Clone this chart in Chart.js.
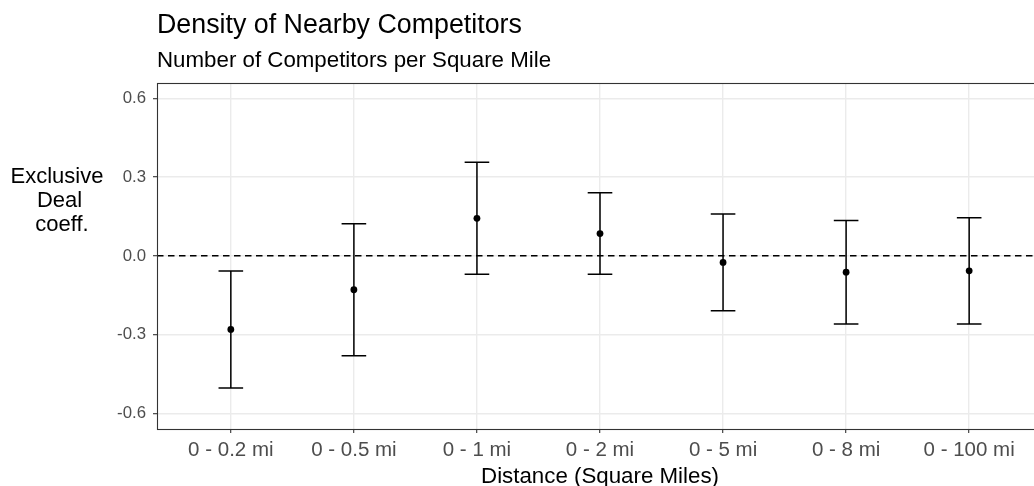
<!DOCTYPE html>
<html>
<head>
<meta charset="utf-8">
<title>Density of Nearby Competitors</title>
<script src="https://cdn.jsdelivr.net/npm/chart.js@4.4.1/dist/chart.umd.min.js"></script>
<style>
  html, body { margin: 0; padding: 0; background: #ffffff; overflow: hidden; }
  #wrap { width: 1034px; height: 486px; overflow: hidden; position: relative; }
  canvas { display: block; }
</style>
</head>
<body>
<div id="wrap"><canvas id="chart" width="1050" height="486"></canvas></div>
<script>
// Distance bands and the estimated coefficient with its confidence interval
const categories = ['0 - 0.2 mi', '0 - 0.5 mi', '0 - 1 mi', '0 - 2 mi', '0 - 5 mi', '0 - 8 mi', '0 - 100 mi'];
const estimates  = [-0.280, -0.129, 0.143, 0.085, -0.025, -0.062, -0.057];
const lowerCI    = [-0.503, -0.380, -0.070, -0.070, -0.209, -0.259, -0.259];
const upperCI    = [-0.058, 0.122, 0.356, 0.240, 0.159, 0.135, 0.145];
const yTicks      = [-0.6, -0.3, 0, 0.3, 0.6];
const yTickLabels = ['-0.6', '-0.3', '0.0', '0.3', '0.6'];
const referenceLine = [0, 0];

const titleText = 'Density of Nearby Competitors';
const subtitleText = 'Number of Competitors per Square Mile';
const xTitle = 'Distance (Square Miles)';
const yTitleLines = ['Exclusive', 'Deal', 'coeff.'];

const FONT = '"Liberation Sans", Arial, Helvetica, sans-serif';
Chart.defaults.font.family = FONT;

// Vertical whiskers with caps, drawn underneath the point estimates
const errorBars = {
  id: 'errorBars',
  beforeDatasetsDraw(chart) {
    const { ctx, scales: { x, y } } = chart;
    const capHalf = 0.1;
    ctx.save();
    ctx.strokeStyle = '#000000';
    ctx.lineWidth = 1.5;
    ctx.lineCap = 'butt';
    categories.forEach((_, i) => {
      const px = x.getPixelForValue(i);
      const yLo = y.getPixelForValue(lowerCI[i]);
      const yHi = y.getPixelForValue(upperCI[i]);
      const xl = x.getPixelForValue(i - capHalf);
      const xr = x.getPixelForValue(i + capHalf);
      ctx.beginPath();
      ctx.moveTo(px, yLo); ctx.lineTo(px, yHi);
      ctx.moveTo(xl, yLo); ctx.lineTo(xr, yLo);
      ctx.moveTo(xl, yHi); ctx.lineTo(xr, yHi);
      ctx.stroke();
    });
    ctx.restore();
  }
};

// Panel frame, headings and the horizontal y-axis caption
const panelText = {
  id: 'panelText',
  afterDraw(chart) {
    const { ctx, chartArea: a } = chart;
    ctx.save();
    ctx.strokeStyle = '#333333';
    ctx.lineWidth = 1.1;
    ctx.strokeRect(Math.round(a.left) + 0.5, Math.round(a.top) + 0.5,
                   Math.round(a.right - a.left), Math.round(a.bottom - a.top));

    ctx.fillStyle = '#000000';
    ctx.textBaseline = 'alphabetic';
    ctx.textAlign = 'left';
    ctx.font = '26.8px ' + FONT;
    ctx.fillText(titleText, a.left, 32.5);
    ctx.font = '22.3px ' + FONT;
    ctx.fillText(subtitleText, a.left, 67);

    ctx.textAlign = 'center';
    ctx.font = '22px ' + FONT;
    yTitleLines.forEach((line, i) => ctx.fillText(line, 57 + i * 2.5, 183 + i * 24));
    ctx.restore();
  }
};

new Chart(document.getElementById('chart'), {
  type: 'scatter',
  data: {
    datasets: [
      {
        type: 'line',
        data: referenceLine.map((v, i) => ({ x: i === 0 ? -0.6 : categories.length - 0.4, y: v })),
        borderColor: '#000000',
        borderWidth: 1.5,
        borderDash: [6.5, 4.5],
        pointRadius: 0,
        fill: false
      },
      {
        data: estimates.map((v, i) => ({ x: i, y: v })),
        backgroundColor: '#000000',
        borderWidth: 0,
        pointRadius: 3.4
      }
    ]
  },
  options: {
    responsive: false,
    animation: false,
    devicePixelRatio: 1,
    layout: { padding: { top: 83, right: 7, left: 0, bottom: 0 } },
    plugins: {
      legend: { display: false },
      tooltip: { enabled: false },
      title: { display: false }
    },
    scales: {
      x: {
        type: 'linear',
        min: -0.6,
        max: categories.length - 0.4,
        afterBuildTicks: s => { s.ticks = categories.map((_, i) => ({ value: i })); },
        afterFit: s => { s.height = 57; },
        ticks: {
          callback: v => categories[v],
          color: '#4D4D4D',
          font: { size: 20.5 },
          padding: 5,
          maxRotation: 0,
          autoSkip: false
        },
        grid: { color: '#EBEBEB', lineWidth: 1.4, tickLength: 4, tickColor: '#333333', tickWidth: 1.1 },
        border: { display: false },
        title: {
          display: true,
          text: xTitle,
          color: '#000000',
          font: { size: 22.3, lineHeight: 0.8 },
          padding: { top: 0, bottom: 0 }
        }
      },
      y: {
        type: 'linear',
        min: -0.659,
        max: 0.658,
        afterBuildTicks: s => { s.ticks = yTicks.map(v => ({ value: v })); },
        afterFit: s => { s.width = 157; },
        ticks: {
          callback: (v, i) => yTickLabels[i],
          color: '#4D4D4D',
          font: { size: 16.8 },
          padding: 7
        },
        grid: { color: '#EBEBEB', lineWidth: 1.4, tickLength: 4, tickColor: '#333333', tickWidth: 1.1 },
        border: { display: false }
      }
    }
  },
  plugins: [errorBars, panelText]
});
</script>
</body>
</html>
